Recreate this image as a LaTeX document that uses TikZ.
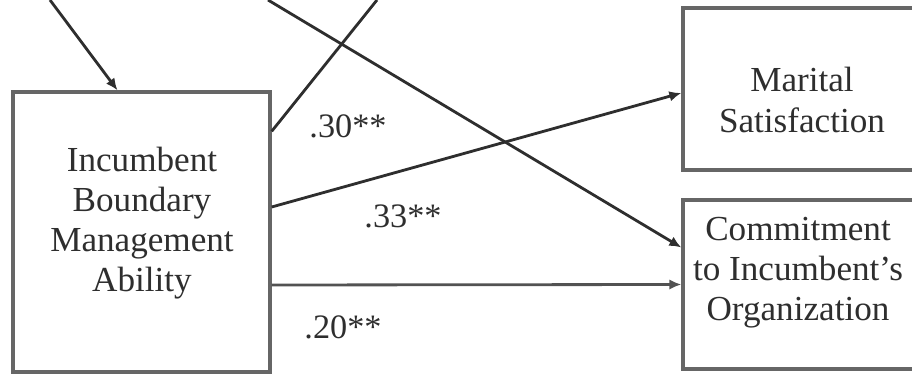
\documentclass[tikz,border=0pt]{standalone}
\usepackage{fontspec}
\setmainfont{Liberation Serif}
\usetikzlibrary{arrows.meta,calc}
\begin{document}
\begin{tikzpicture}[x=0.02cm, y=-0.02cm,
        caja/.style={draw=black!60, line width=1.9pt, fill=white},
        texto/.style={align=center, text=black!82, font=\fontsize{20}{22.8}\selectfont, inner sep=0pt},
        coef/.style={text=black!82, font=\fontsize{19.5}{22}\selectfont, inner sep=0pt},
        flecha/.style={draw=black!82, line width=1.6pt, -{Latex[length=0.24cm, width=0.21cm]}},
        linea/.style={draw=black!82, line width=1.6pt}]
        \clip (0,0) rectangle (912,374);
        % Cajas
        \node[caja, minimum width=257*0.02cm, minimum height=280*0.02cm] (iba) at (141.5,232) {};
        \node[caja, minimum width=244*0.02cm, minimum height=162*0.02cm] (mar) at (805,89) {};
        \node[caja, minimum width=244*0.02cm, minimum height=169*0.02cm] (com) at (805,284.5) {};
        \node[texto] (ibatxt) at (142,223) {Incumbent\\Boundary\\Management\\Ability};
        \node[texto] (martxt) at (802,100) {Marital\\Satisfaction};
        \node[texto] (comtxt) at (798,273) {Commitment\\to Incumbent’s\\Organization};
        % Extremos fuera del dibujo
        \coordinate (top0) at (50,0);
        \coordinate (top1) at (268,0);
        \coordinate (top2) at (377,0);
        % Flechas
        \draw[flecha] (top0) -- ($(iba.north)+(-24,0)$);
        \draw[linea] ($(iba.north east)+(0,41)$) -- (top2);
        \draw[flecha] (top1) -- ($(com.west)+(0,-37)$);
        \draw[flecha] ($(iba.east)+(0,-25)$) -- ($(mar.west)+(0,4)$);
        \draw[flecha, draw=black!68] ($(iba.east)+(0,53)$) -- (com.west);
        % Coeficientes
        \node[coef] (c30) at (348,126) {.30**};
        \node[coef] (c33) at (403,216) {.33**};
        \node[coef] (c20) at (343,327) {.20**};
    \end{tikzpicture}
\end{document}
